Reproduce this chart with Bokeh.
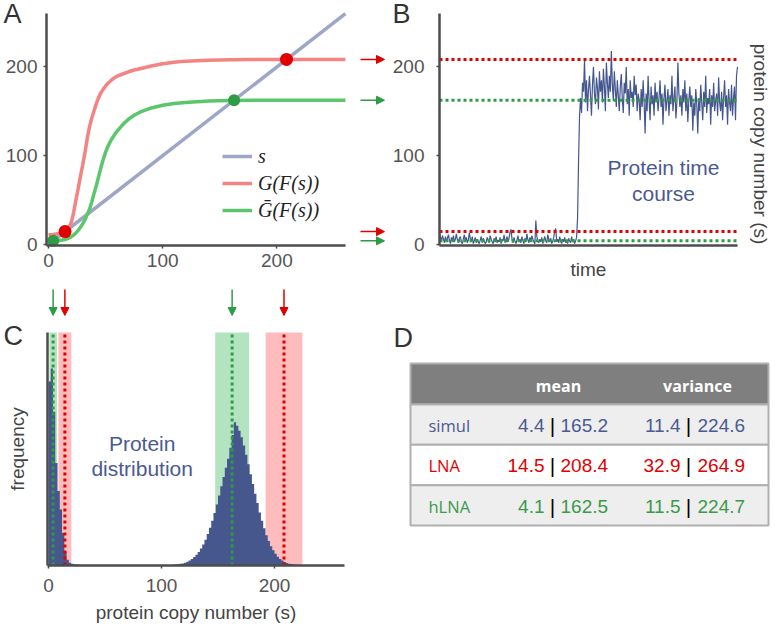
import math
from bokeh.plotting import figure
from bokeh.models import (Range1d, FixedTicker, LinearAxis, Label, Arrow, NormalHead,
                          Legend, LegendItem)
from bokeh.layouts import row, column
from bokeh.embed import file_html
from bokeh.resources import INLINE
from bokeh.core.properties import value

# ---------------- data ----------------
diag_s = [0, 260]
curve_s = [0, 4, 8, 12, 14.5, 16, 18, 20, 22, 24, 26, 28, 30, 32, 34, 36, 38, 40, 42, 44,
           46, 48, 50, 52, 55, 58, 60, 65, 70, 75, 80, 90, 100, 110, 120, 140, 160, 180, 208.4, 260]
G_lna = [11, 11.3, 12, 13.3, 14.5, 16.5, 19.5, 25, 36, 50, 63, 77, 90, 104, 120, 133, 143, 151,
         159, 166, 171, 175, 178.5, 181.5, 185, 188, 189.5, 192, 194.5, 196.5, 198, 201, 203.5,
         205.3, 206.5, 207.6, 208.1, 208.3, 208.4, 208.4]
G_hlna = [3.8, 4.1, 4.3, 5.0, 5.6, 6.3, 7.4, 8.8, 10.7, 13, 16, 19.5, 23.5, 28, 34, 40, 48.5, 58,
          67, 77, 87, 96, 104, 110.5, 118, 124, 127.5, 135, 141, 145.5, 149, 153.8, 156.8,
          158.8, 160, 161.6, 162.3, 162.5, 162.5, 162.5]

table_rows = ["simul", "LNA", "hLNA"]
mean_low = [4.4, 14.5, 4.1]
mean_high = [165.2, 208.4, 162.5]
var_low = [11.4, 32.9, 11.5]
var_high = [224.6, 264.9, 224.7]

trace = [
    12, 8, 4, 10, 6, 2, 9, 3, 7, 11, 5, 1, 8, 4, 10, 3, 6, 12, 5, 2,
    7, 9, 3, 1, 6, 11, 4, 8, 2, 5, 13, 7, 3, 9, 1, 4, 8, 2, 6, 3,
    1, 5, 9, 2, 7, 4, 1, 3, 8, 5, 2, 10, 6, 3, 1, 7, 4, 9, 2, 5,
    3, 8, 1, 6, 4, 11, 2, 5, 9, 3, 7, 14, 17, 6, 2, 8, 4, 1, 5, 10,
    3, 6, 2, 9, 4, 1, 7, 3, 12, 5, 2, 8, 4, 10, 6, 3, 1, 27, 9, 4,
    2, 6, 3, 8, 1, 5, 9, 4, 2, 11, 6, 3, 7, 1, 4, 8, 15, 18, 3, 6,
    2, 9, 4, 1, 6, 3, 8, 2, 5, 1, 7, 4, 2, 9, 3, 6, 1, 4, 8,
    30, 95, 145,
    165, 148, 182, 172, 208, 160, 185, 150, 175, 190, 168, 145, 180, 200, 170, 158, 188, 176, 152, 195,
    172, 185, 160, 198, 178, 150, 205, 182, 165, 190, 172, 218, 180, 162, 195, 175, 155, 185, 168, 150,
    178, 192, 165, 148, 182, 170, 200, 158, 175, 145, 185, 165, 172, 155, 190, 168, 180, 150, 170, 162,
    140, 175, 155, 185, 160, 125, 170, 150, 190, 162, 140, 178, 158, 168, 145, 182, 160, 172, 150, 165,
    185, 155, 170, 135, 165, 180, 150, 162, 175, 145, 168, 158, 190, 150, 165, 178, 142, 160, 205, 170,
    155, 168, 145, 175, 160, 185, 150, 170, 138, 162, 178, 155, 168, 128, 160, 145, 175, 158, 125, 165,
    150, 180, 160, 140, 172, 155, 190, 148, 165, 158, 175, 135, 168, 155, 182, 150, 162, 170, 145, 188,
    160, 150, 172, 140, 165, 185, 155, 168, 135, 175, 160, 150, 180, 145, 165, 178, 140, 190, 200,
]

hist_bin = 2
hist_freq = [
    79, 84.5, 66, 44, 32, 24, 14, 6, 2.5, 1.2, 0.7, 0.5, 0.4, 0.3, 0.25,
    0.2, 0.2, 0.2, 0.15, 0.15, 0.1, 0.1, 0.1, 0.1, 0.1, 0.1, 0.1, 0.1, 0.1, 0.1,
    0.1, 0.1, 0.1, 0.1, 0.1, 0.1, 0.1, 0.1, 0.1, 0.1, 0.1, 0.1, 0.1, 0.1, 0.1,
    0.1, 0.1, 0.1, 0.1, 0.1, 0.1, 0.1, 0.1, 0.1, 0.1,
    0.3, 0.4, 0.5, 0.7, 0.9, 1.2, 1.6, 2.1, 2.8, 3.6, 4.6, 5.8, 7.3, 9.0, 11.0,
    13.5, 16.2, 19.2, 22.5, 26.2, 30.0, 34.0, 38.0, 42.0, 45.8, 50.5, 56.0, 61.5, 60.0, 57.8,
    55.0, 51.5, 47.5, 43.5, 39.2, 35.0, 30.8, 26.8, 22.8, 19.2, 16.0, 13.0, 10.5, 8.3, 6.5,
    5.0, 3.8, 2.8, 2.1, 1.5, 1.1, 0.8, 0.6, 0.4, 0.3, 0.2, 0.1, 0.1, 0.1, 0.1,
]

# ---------------- styles / layout constants ----------------
AX = "#4d4d4d"
TICK_TXT = "#555555"
LBL_TXT = "#444444"
RED = "#e00000"
GREEN = "#2e9b45"
RED_CURVE = "#f48383"
GREEN_CURVE = "#5cc66c"
BLUE_LINE = "#9da6c7"
TRACE = "#44568e"
HIST = "#45578d"
TEXT_BLUE = "#4b5a91"
BAND_GREEN = "#b4e4bf"
BAND_RED = "#ffbcbc"
FONT = "Liberation Sans"

LEFT_W, RIGHT_W = 388, 389
TOP_H, BOT_H = 287, 342

AX0, AKX = 48.0, 1.142
AY0, AKY = 244.0, 0.888
B_X0, B_X1 = 439.0, 737.0
CX0, CKX = 48.0, 1.13
CY0, CKY = 565.0 - TOP_H, 2.33
YTOP = 100


def a_x(px):
    return (px - AX0) / AKX


def a_y(py):
    return (AY0 - py) / AKY


def c_x(px):
    return (px - CX0) / CKX


def c_y(py):
    return (CY0 - py) / CKY


def base_fig(**kw):
    p = figure(output_backend="svg", toolbar_location=None, min_border=0,
               min_border_left=0, min_border_right=0, min_border_top=0, min_border_bottom=0, **kw)
    p.grid.visible = False
    p.outline_line_color = None
    p.background_fill_color = "white"
    p.border_fill_color = "white"
    return p


def style_axis(ax, standoff=5):
    ax.axis_line_color = AX
    ax.axis_line_width = 2.5
    ax.major_tick_line_color = AX
    ax.major_tick_line_width = 1.5
    ax.major_tick_out = 3
    ax.major_tick_in = 0
    ax.minor_tick_line_color = None
    ax.major_label_text_font = FONT
    ax.major_label_text_font_size = "19px"
    ax.major_label_text_color = TICK_TXT
    ax.major_label_standoff = standoff
    ax.axis_label_text_font = FONT
    ax.axis_label_text_font_style = "normal"
    ax.axis_label_text_font_size = "19px"
    ax.axis_label_text_color = LBL_TXT


def panel_letter(p, txt, x, y):
    p.add_layout(Label(x=x, y=y, text=txt, text_font=FONT, text_font_size="27px",
                       text_color="#333333", text_baseline="top", text_align="left"))


# ---------------- panel A ----------------
pA = base_fig(width=LEFT_W, height=TOP_H,
              x_range=Range1d(a_x(0), a_x(LEFT_W)), y_range=Range1d(a_y(TOP_H), a_y(0)))
style_axis(pA.xaxis[0], 5)
style_axis(pA.yaxis[0], 6)
pA.xaxis.ticker = FixedTicker(ticks=[0, 100, 200])
pA.yaxis.ticker = FixedTicker(ticks=[0, 100, 200])
pA.xaxis.fixed_location = a_y(245)
pA.yaxis.fixed_location = a_x(46)
pA.xaxis.bounds = (a_x(46), 260)
pA.yaxis.bounds = (a_y(245), 260)

r_s = pA.line(diag_s, diag_s, line_color=BLUE_LINE, line_width=3.5)
r_g = pA.line(curve_s, G_lna, line_color=RED_CURVE, line_width=3.5)
r_h = pA.line(curve_s, G_hlna, line_color=GREEN_CURVE, line_width=3.5)
lna_fp = [mean_low[1], mean_high[1]]
hlna_fp = [mean_low[2], mean_high[2]]
pA.scatter(lna_fp, lna_fp, size=13, fill_color=RED, line_color=None)
pA.scatter(hlna_fp, hlna_fp, size=12, fill_color=GREEN, line_color=None)

legend = Legend(items=[LegendItem(label="s", renderers=[r_s]),
                       LegendItem(label="G(F(s))", renderers=[r_g]),
                       LegendItem(label="G\u0304(F(s))", renderers=[r_h])],
                location=(222, TOP_H - 222), orientation="vertical", border_line_color=None,
                background_fill_alpha=0, padding=0, margin=0, spacing=3,
                glyph_width=30, glyph_height=24, label_height=24, label_standoff=6,
                label_text_font="Liberation Serif", label_text_font_style="italic",
                label_text_font_size="20px", label_text_color="#222222")
pA.add_layout(legend)

levels = [mean_high[1], mean_high[2], mean_low[1], mean_low[2]]
level_c = [RED, GREEN, RED, GREEN]
for yv, c in zip(levels, level_c):
    pA.add_layout(Arrow(end=NormalHead(size=8, fill_color=c, line_color=c),
                        x_start=a_x(360), x_end=a_x(384), y_start=yv, y_end=yv,
                        line_color=c, line_width=1.5))
panel_letter(pA, "A", a_x(3), a_y(-2))

# ---------------- panel B ----------------
n = len(trace)
BK = (B_X1 - B_X0) / (n - 1)


def b_x(px):
    return (px - (B_X0 - LEFT_W)) / BK


pB = base_fig(width=RIGHT_W, height=TOP_H,
              x_range=Range1d(b_x(0), b_x(RIGHT_W)), y_range=Range1d(a_y(TOP_H), a_y(0)))
style_axis(pB.xaxis[0])
style_axis(pB.yaxis[0], 12)
pB.yaxis.ticker = FixedTicker(ticks=[0, 100, 200])
pB.xaxis.ticker = FixedTicker(ticks=[])
pB.xaxis.fixed_location = a_y(245)
pB.yaxis.fixed_location = 0
pB.xaxis.bounds = (0, n - 1)
pB.yaxis.bounds = (a_y(245), 260)
pB.xaxis.axis_label = "time"
pB.xaxis.axis_label_standoff = 13
pB.line(list(range(n)), trace, line_color=TRACE, line_width=1.2)
pB.segment(x0=[0] * 4, x1=[n - 1] * 4, y0=levels, y1=levels, line_color=level_c,
           line_width=3, line_dash="3 3")
rax = LinearAxis(ticker=FixedTicker(ticks=[]), axis_label="protein copy number (s)")
style_axis(rax)
rax.axis_line_color = None
rax.axis_label_standoff = 12
rax.fixed_location = n - 1
pB.add_layout(rax, "right")
for txt, py in [("Protein time", 167), ("course", 193)]:
    pB.add_layout(Label(x=b_x(663 - LEFT_W), y=a_y(py), text=txt, text_font=FONT,
                        text_font_size="21px", text_color=TEXT_BLUE, text_align="center",
                        text_baseline="middle"))
panel_letter(pB, "B", b_x(4), a_y(-2))

# ---------------- panel C ----------------
pC = base_fig(width=LEFT_W, height=BOT_H,
              x_range=Range1d(c_x(0), c_x(LEFT_W)), y_range=Range1d(c_y(BOT_H), c_y(0)))
style_axis(pC.xaxis[0], 10)
style_axis(pC.yaxis[0])
pC.xaxis.ticker = FixedTicker(ticks=[0, 100, 200])
pC.xaxis.axis_label = "protein copy number (s)"
pC.xaxis.axis_label_standoff = 7
pC.xaxis.fixed_location = 0
pC.xaxis.bounds = (c_x(47), c_x(344))
pC.yaxis.ticker = FixedTicker(ticks=[])
pC.yaxis.fixed_location = c_x(47)
pC.yaxis.bounds = (0, YTOP)
pC.yaxis.axis_label = "frequency"
pC.yaxis.axis_label_standoff = 20

band_m = [mean_low[2], mean_low[1], mean_high[2], mean_high[1]]
band_v = [var_low[2], var_low[1], var_high[2], var_high[1]]
band_c = [BAND_GREEN, BAND_RED, BAND_GREEN, BAND_RED]
pC.quad(left=[m - math.sqrt(v) for m, v in zip(band_m, band_v)],
        right=[m + math.sqrt(v) for m, v in zip(band_m, band_v)],
        bottom=0, top=YTOP, fill_color=band_c, line_color=None)
edges = [i * hist_bin for i in range(len(hist_freq) + 1)]
pC.varea_step(x=edges, y1=[0] * len(edges), y2=hist_freq + [hist_freq[-1]],
              step_mode="after", fill_color=HIST)
line_c = [GREEN, RED, GREEN, RED]
pC.segment(x0=band_m, y0=0, x1=band_m, y1=YTOP, line_color=line_c, line_width=3,
           line_dash="3 3")
for m, c in zip(band_m, line_c):
    pC.add_layout(Arrow(end=NormalHead(size=8, fill_color=c, line_color=c),
                        x_start=m, x_end=m, y_start=c_y(289 - TOP_H), y_end=c_y(315 - TOP_H),
                        line_color=c, line_width=1.5))
for txt, py in [("Protein", 443), ("distribution", 468)]:
    pC.add_layout(Label(x=c_x(141.7), y=c_y(py - TOP_H), text=txt, text_font=FONT,
                        text_font_size="21px", text_color=TEXT_BLUE, text_align="center",
                        text_baseline="middle"))
panel_letter(pC, "C", c_x(3), c_y(320 - TOP_H))

# ---------------- panel D (table) ----------------
pD = base_fig(width=RIGHT_W, height=BOT_H, x_range=Range1d(0, RIGHT_W),
              y_range=Range1d(BOT_H, 0))
pD.axis.visible = False
TL, TR, HT, HB, RH = 22, 380, 76, 117, 40.33
row_top = [HB + RH * i for i in range(len(table_rows))]
row_bot = [t + RH for t in row_top]
row_mid = [t + RH / 2 + 1 for t in row_top]
row_fill = ["#eeeeee", "#ffffff", "#eeeeee"]
row_col = [TEXT_BLUE, RED, "#3a9a4c"]
pD.quad(left=TL, right=TR, top=HT, bottom=HB, fill_color="#7f7f7f", line_color="#b0b0b0",
        line_width=2)
pD.quad(left=TL, right=TR, top=row_top, bottom=row_bot, fill_color=row_fill,
        line_color="#b0b0b0", line_width=2)
pD.text(x=[170, 309], y=[98, 98], text=["mean", "variance"], text_font=value("Open Sans"),
        text_font_style="bold", text_font_size="16px", text_color="white",
        text_align="center", text_baseline="middle")
pD.text(x=[40] * 3, y=row_mid, text=table_rows, text_font=value("Open Sans"),
        text_font_size="16.5px", text_color=row_col, text_align="left", text_baseline="middle")
for vals_l, vals_r, xl, xb, xr in [(mean_low, mean_high, 156, 164, 172),
                                   (var_low, var_high, 292, 300, 309)]:
    pD.text(x=[xl] * 3, y=row_mid, text=[f"{v:.1f}" for v in vals_l], text_font=value(FONT),
            text_font_size="19px", text_color=row_col, text_align="right",
            text_baseline="middle")
    pD.text(x=[xb] * 3, y=row_mid, text=["|"] * 3, text_font=value(FONT),
            text_font_size="21px", text_color="#000000",
            text_align="center", text_baseline="middle")
    pD.text(x=[xr] * 3, y=row_mid, text=[f"{v:.1f}" for v in vals_r], text_font=value(FONT),
            text_font_size="19px", text_color=row_col, text_align="left",
            text_baseline="middle")
panel_letter(pD, "D", 5, 35)

layout = column(row(pA, pB), row(pC, pD))
open("out.html", "w").write(file_html(layout, INLINE, title="figure"))
